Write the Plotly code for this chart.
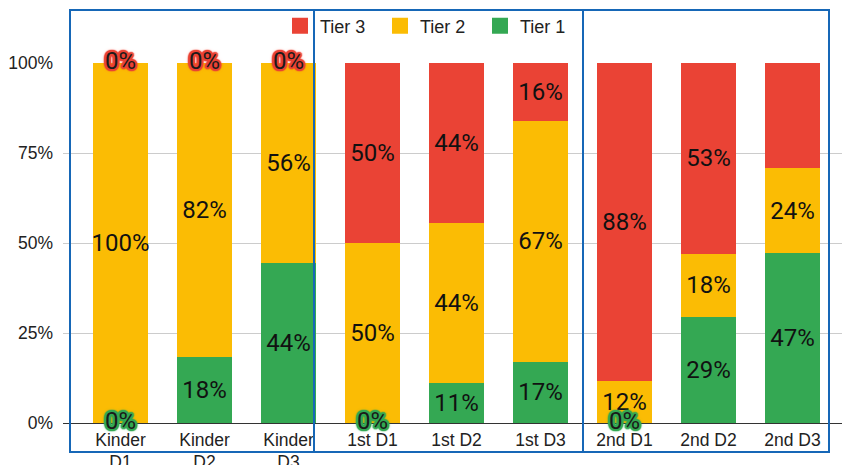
import plotly.graph_objects as go

categories = ["Kinder<br>D1", "Kinder<br>D2", "Kinder<br>D3",
              "1st D1", "1st D2", "1st D3",
              "2nd D1", "2nd D2", "2nd D3"]
tier1 = [0, 18.2, 44.4, 0, 11.1, 17.0, 0, 29.4, 47.1]
tier2 = [100, 81.8, 55.6, 50, 44.4, 67.0, 11.8, 17.6, 23.6]
tier3 = [0, 0, 0, 50, 44.5, 16.0, 88.2, 53.0, 29.4]
y_ticks = [0, 25, 50, 75, 100]
y_ticktext = ["0%", "25%", "50%", "75%", "100%"]

RED, YEL, GRN = "#EA4335", "#FBBC04", "#34A853"
BLUE = "#1667B7"
LABEL_FONT = "Roboto"
AXIS_FONT = "Liberation Sans"

xs = list(range(len(categories)))

fig = go.Figure()

def seg_text(vals):
    return [f"{v:.0f}%" if v > 0 else "" for v in vals]

for name, vals, col in [("Tier 1", tier1, GRN), ("Tier 2", tier2, YEL), ("Tier 3", tier3, RED)]:
    fig.add_trace(go.Bar(
        x=xs, y=vals, name=name, marker=dict(color=col, line=dict(width=0)),
        text=seg_text(vals), textposition="inside", insidetextanchor="middle",
        textangle=0, constraintext="none",
        textfont=dict(family=LABEL_FONT, size=24, color="#111111"),
        showlegend=False, hoverinfo="skip"))

# zero labels
tops = [a + b + c for a, b, c in zip(tier1, tier2, tier3)]
z3x = [x for x, v in zip(xs, tier3) if v == 0]
z3y = [t for t, v in zip(tops, tier3) if v == 0]
z1x = [x for x, v in zip(xs, tier1) if v == 0]
z1y = [0 for v in tier1 if v == 0]

def glow(c):
    offs = [(2, 0), (-2, 0), (0, 2), (0, -2), (1, 1), (-1, -1), (1, -1), (-1, 1),
            (2, 1), (-2, -1), (1, 2), (-1, -2), (2, -1), (-2, 1), (1, -2), (-1, 2)]
    return ", ".join([f"{dx}px {dy}px 1px {c}" for dx, dy in offs] + [f"0 0 4px {c}"])

for zx, zy, col in [(z3x, z3y, RED), (z1x, z1y, GRN)]:
    fig.add_trace(go.Scatter(x=zx, y=zy, mode="text", text=["0%"] * len(zx),
                             textposition="middle center", cliponaxis=False,
                             textfont=dict(family=LABEL_FONT, size=24, color="#1a1a1a",
                                           shadow=glow(col)),
                             showlegend=False, hoverinfo="skip"))

# legend entries
for name, col in [("Tier 3", RED), ("Tier 2", YEL), ("Tier 1", GRN)]:
    fig.add_trace(go.Scatter(x=[None], y=[None], mode="markers", name=name,
                             marker=dict(symbol="square", size=16, color=col)))

W, H = 842, 465
L, T, B = 63, 63, 42
pw = W - L
unit = 84.0
x0 = -(120.5 - L) / unit
x1 = x0 + pw / unit

def px(v):
    return (v - L) / pw

def py(v):
    return (H - B - v) / (H - B - T)

shapes = []
for a, b in [(70, 314), (314, 583), (583, 829)]:
    shapes.append(dict(type="rect", xref="paper", yref="paper",
                       x0=px(a), x1=px(b), y0=py(452), y1=py(10),
                       line=dict(color=BLUE, width=2), fillcolor="rgba(0,0,0,0)"))

fig.update_layout(
    width=W, height=H,
    margin=dict(l=L, r=0, t=T, b=B, pad=0, autoexpand=False),
    barmode="stack", bargap=0.345,
    plot_bgcolor="white", paper_bgcolor="white",
    font=dict(family=AXIS_FONT, size=17, color="#222222"),
    xaxis=dict(range=[x0, x1], tickvals=xs, ticktext=categories,
               showgrid=False, zeroline=False, showline=False, ticks="",
               ticklabelstandoff=4, automargin=False,
               tickfont=dict(family=AXIS_FONT, size=17.5, color="#222222")),
    yaxis=dict(range=[0, 100], tickmode="array", tickvals=y_ticks, ticktext=y_ticktext,
               gridcolor="#CCCCCC", gridwidth=1, zeroline=True,
               zerolinecolor="#333333", zerolinewidth=1, ticks="",
               ticklabelstandoff=9, automargin=False,
               tickfont=dict(family=AXIS_FONT, size=17.5, color="#222222")),
    legend=dict(orientation="h", x=px(280), xanchor="left", y=py(26), yanchor="middle",
                font=dict(family=AXIS_FONT, size=18, color="#222222"),
                entrywidth=55, entrywidthmode="pixels",
                bgcolor="rgba(0,0,0,0)", traceorder="normal"),
    shapes=shapes,
    barcornerradius=2,
)

fig.write_html("out.html")
